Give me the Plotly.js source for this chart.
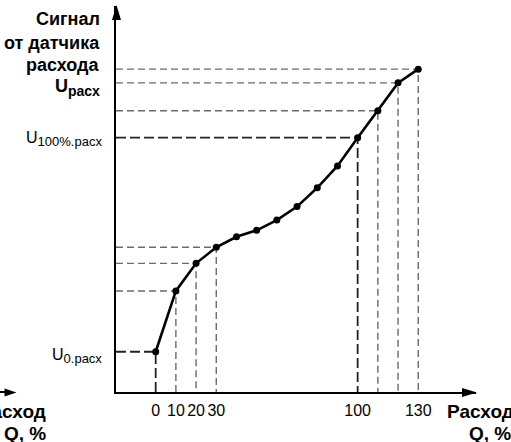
<!DOCTYPE html>
<html>
<head>
<meta charset="utf-8">
<script src="https://cdn.plot.ly/plotly-3.0.1.min.js"></script>
<style>html,body{margin:0;padding:0;background:#fff;}#chart{width:511px;height:442px;}</style>
</head>
<body>
<div id="chart"></div>
<script>
// Flow, % (x) and sensor signal in % of span (y: U0 = 0, U100% = 100)
const flowPct   = [0, 10, 20, 30, 40, 50, 60, 70, 80, 90, 100, 110, 120, 130];
const signalPct = [0, 28.4, 41.3, 48.8, 53.7, 56.7, 61.5, 67.8, 76.6, 86.8, 100, 112.6, 125.6, 132.0];

const mainRefFlow  = [0, 100];
const minorRefFlow = [10, 20, 30, 110, 120, 130];

const xTickVals = [0, 10, 20, 30, 100, 130];
const xTickText = ['0', '10', '20', '30', '100', '130'];
const yLabelVals = [0, 100];
const yLabelText = ['U<sub><span style="font-size:13px">0.расх</span></sub>',
                    'U<sub><span style="font-size:13px">100%.расх</span></sub>'];

const yTitleLines = ['<b>Сигнал</b>', '<b>от датчика</b>', '<b>расхода</b>',
                     '<b>U<sub><span style="font-size:14px">расх</span></sub></b>'];
const xTitle1 = '<b>Расход</b>';
const xTitle2 = '<b>Q, %</b>';

const X_RANGE = [-19.65, 158.6];
const Y_RANGE = [-18.8, 161.5];
const PL = 116, PR = 476, PT = 6, PB = 392;
const px2paperX = p => (p - PL) / (PR - PL);
const px2paperY = p => (PB - p) / (PB - PT);

function helper(list) {
  const xs = [], ys = [];
  list.forEach(f => {
    const v = signalPct[flowPct.indexOf(f)];
    xs.push(X_RANGE[0], f, f, null);
    ys.push(v, v, Y_RANGE[0], null);
  });
  return {xs, ys};
}
const hMinor = helper(minorRefFlow);
const hMain = helper(mainRefFlow);

const FONT = 'Liberation Sans, Arial, Helvetica, sans-serif';

function arrowHead(tipX, tipY, dir, len, half) {
  let pts;
  if (dir === 'up') pts = [[tipX, tipY], [tipX - half, tipY + len], [tipX + half, tipY + len]];
  else pts = [[tipX, tipY], [tipX - len, tipY - half], [tipX - len, tipY + half]];
  const d = pts.map((p, i) => (i ? 'L' : 'M') + px2paperX(p[0]).toFixed(5) + ',' + px2paperY(p[1]).toFixed(5)).join(' ') + ' Z';
  return {type: 'path', xref: 'paper', yref: 'paper', path: d, fillcolor: '#000', line: {width: 0}};
}

const traces = [
  {x: hMinor.xs, y: hMinor.ys, mode: 'lines', type: 'scatter', hoverinfo: 'skip',
   line: {color: '#6a6a6a', width: 1.4, dash: '7px,4px'}},
  {x: hMain.xs, y: hMain.ys, mode: 'lines', type: 'scatter', hoverinfo: 'skip',
   line: {color: '#222', width: 1.8, dash: '10px,4px'}},
  {x: flowPct, y: signalPct, mode: 'lines+markers', type: 'scatter',
   line: {color: '#000', width: 2.6}, marker: {color: '#000', size: 7}}
];

const titleCenters = [19, 43, 64.5, 88];
const annotations = yTitleLines.map((t, i) => ({
  text: t, xref: 'paper', yref: 'paper', x: px2paperX(101.5), y: px2paperY(titleCenters[i]),
  xanchor: 'right', yanchor: 'middle', showarrow: false, font: {family: FONT, size: 18, color: '#000'}
}));
annotations.push(
  {text: xTitle1, xref: 'paper', yref: 'paper', x: px2paperX(445), y: px2paperY(411.7), xanchor: 'left', yanchor: 'middle',
   showarrow: false, font: {family: FONT, size: 19, color: '#000'}},
  {text: xTitle2, xref: 'paper', yref: 'paper', x: px2paperX(467), y: px2paperY(433.5), xanchor: 'left', yanchor: 'middle',
   showarrow: false, font: {family: FONT, size: 19, color: '#000'}},
  {text: xTitle1, xref: 'paper', yref: 'paper', x: px2paperX(48), y: px2paperY(411.7), xanchor: 'right', yanchor: 'middle',
   showarrow: false, font: {family: FONT, size: 19, color: '#000'}},
  {text: xTitle2, xref: 'paper', yref: 'paper', x: px2paperX(48), y: px2paperY(433.5), xanchor: 'right', yanchor: 'middle',
   showarrow: false, font: {family: FONT, size: 19, color: '#000'}}
);
yLabelVals.forEach((v, i) => annotations.push({
  text: yLabelText[i], xref: 'paper', yref: 'y', x: px2paperX(104), y: v, xanchor: 'right', yanchor: 'middle',
  yshift: i === 0 ? -4 : -1, showarrow: false, font: {family: FONT, size: 16, color: '#000'}
}));

const layout = {
  width: 511, height: 442,
  margin: {l: PL, r: 511 - PR, t: PT, b: 442 - PB, pad: 0},
  paper_bgcolor: '#fff', plot_bgcolor: '#fff',
  showlegend: false,
  font: {family: FONT, color: '#000'},
  xaxis: {range: X_RANGE, showgrid: false, zeroline: false, showline: true, linewidth: 2, linecolor: '#000',
          tickmode: 'array', tickvals: xTickVals, ticktext: xTickText, tickangle: 0, ticks: 'outside', ticklen: 3,
          tickcolor: 'rgba(0,0,0,0)', tickfont: {family: FONT, size: 16, color: '#000'}, fixedrange: true},
  yaxis: {range: Y_RANGE, showgrid: false, zeroline: false, showline: true, linewidth: 2, linecolor: '#000',
          showticklabels: false, ticks: '', fixedrange: true},
  shapes: [
    {type: 'line', xref: 'paper', yref: 'paper', x0: px2paperX(0), x1: px2paperX(8), y0: 0, y1: 0,
     line: {color: '#000', width: 2}},
    arrowHead(16.5, 392.5, 'right', 12, 4),
    arrowHead(116.5, 5, 'up', 15, 4.5),
    arrowHead(477, 392.5, 'right', 15, 4.5)
  ],
  annotations: annotations
};

Plotly.newPlot('chart', traces, layout, {displayModeBar: false, staticPlot: true});
</script>
</body>
</html>
